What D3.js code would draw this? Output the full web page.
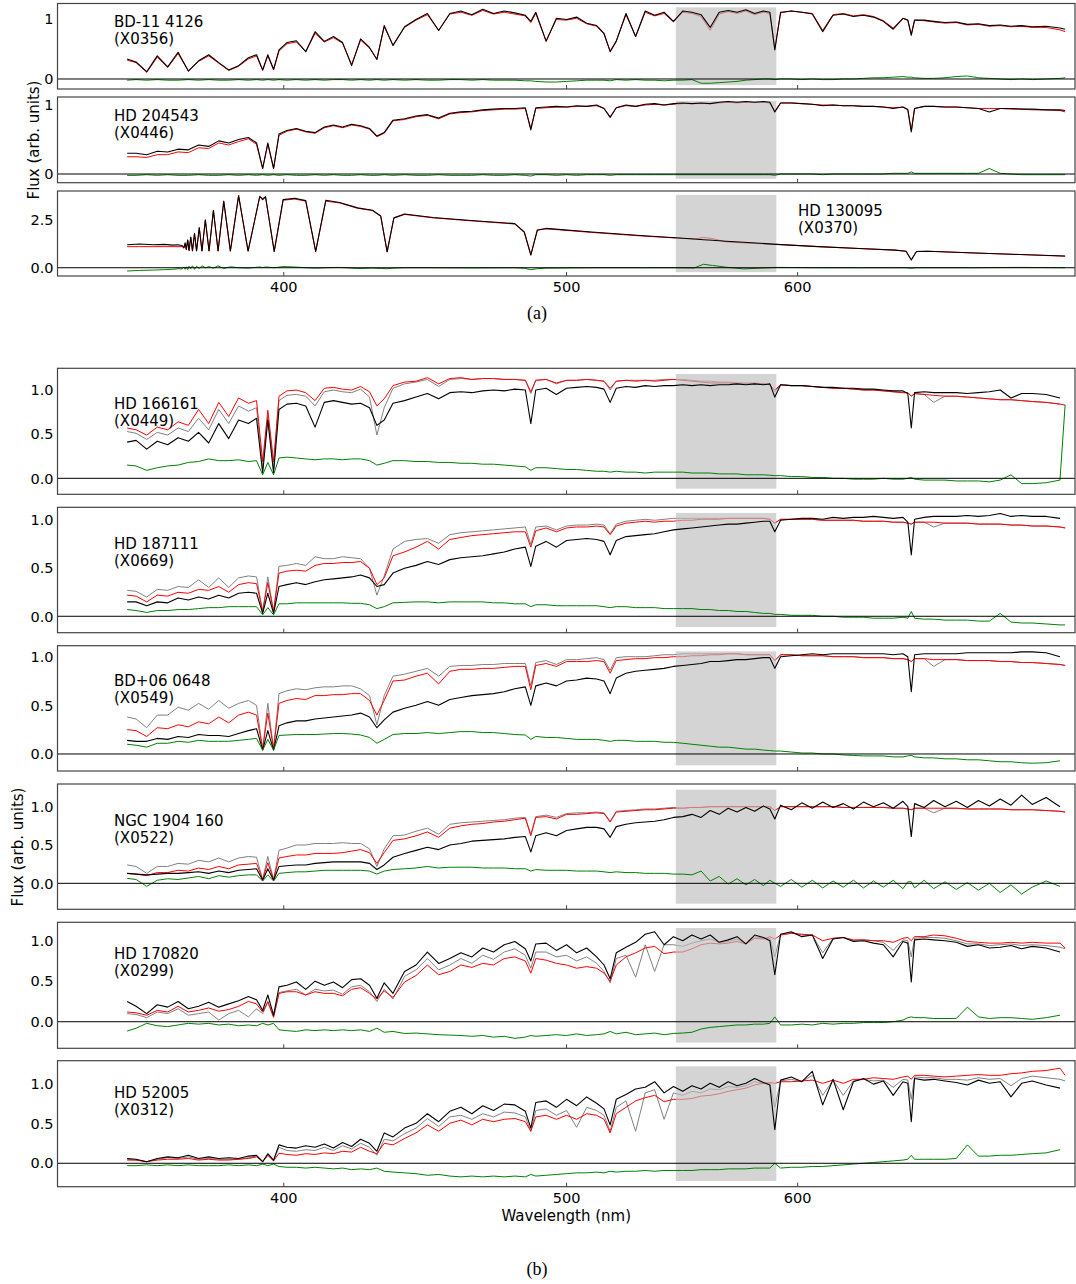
<!DOCTYPE html>
<html>
<head>
<meta charset="utf-8">
<script src="https://cdn.jsdelivr.net/npm/d3@7"></script>
<style>
  body { margin: 0; background: #fff; }
  svg text { font-family: "DejaVu Sans", sans-serif; fill: #000; }
</style>
</head>
<body>
<svg id="fig" width="1076" height="1284"></svg>
<script>
// wavelength grid shared by the cool stars (nm)
const wlGrid = [
  353.5, 356, 359, 362, 365, 368, 371, 374, 377, 380,
  383, 386, 389, 391.5, 393.4, 395, 396.8, 398.5, 401, 404,
  407, 410, 413, 416, 419, 422, 425, 428, 430.5, 433,
  436, 440, 444, 448, 452, 456, 460, 464, 468, 472,
  476, 480, 484, 486.1, 488, 492, 496, 500, 504, 508,
  512, 515, 517.5, 520, 524, 528, 532, 536, 540, 544,
  548, 552, 556, 560, 564, 568, 572, 576, 580, 584,
  587, 589.3, 592, 597, 602, 607, 612, 617, 622, 627,
  632, 637, 642, 647, 652, 654.5, 656.3, 658, 663, 668,
  674, 680, 686, 692, 698, 704, 710, 716, 722, 730,
  738, 741
];

// finer grid around the Balmer series for the hot star
const wlHot = [
  353.5, 357, 361, 364, 366.5, 368, 369.2, 369.7, 370.05, 370.4,
  370.8, 371.2, 371.7, 372.2, 372.8, 373.4, 374.2, 375.0, 376.0, 377.1,
  378.4, 379.8, 381.5, 383.5, 386.0, 388.9, 392.5, 393.4, 394.3, 397.0,
  399.8, 403.5, 407, 410.2, 413.5, 418, 424, 429, 431.8, 434.0,
  436.3, 440, 450, 465, 480, 483.6, 486.1, 488.6, 492, 510,
  530, 545, 553, 557, 561, 567, 575, 590, 610, 630,
  648, 653.6, 656.3, 659, 665, 690, 715, 741
];

// ---- (a) BD-11 4126 (X0356)
const bd11_obs = [
  0.33, 0.28, 0.12, 0.38, 0.20, 0.44, 0.13, 0.30, 0.40, 0.27,
  0.15, 0.22, 0.35, 0.40, 0.15, 0.40, 0.16, 0.48, 0.60, 0.63,
  0.45, 0.78, 0.62, 0.70, 0.60, 0.22, 0.66, 0.52, 0.32, 0.88,
  0.55, 0.86, 0.98, 1.08, 0.80, 1.08, 1.12, 1.06, 1.15, 1.08,
  1.12, 1.09, 1.05, 0.95, 1.10, 0.62, 1.00, 0.98, 1.02, 0.92,
  0.88, 0.75, 0.45, 0.62, 1.08, 0.70, 1.12, 1.05, 1.10, 0.95,
  1.12, 1.10, 1.06, 0.85, 1.10, 1.13, 1.10, 1.14, 1.08, 1.12,
  1.10, 0.48, 1.10, 1.12, 1.10, 1.07, 0.78, 1.05, 1.07, 1.03,
  1.05, 1.02, 0.95, 0.82, 1.00, 0.97, 0.72, 0.97, 0.97, 0.95,
  0.93, 0.94, 0.90, 0.91, 0.88, 0.89, 0.87, 0.88, 0.86, 0.87,
  0.84, 0.82
];
const bd11_mod = [
  0.31, 0.27, 0.11, 0.36, 0.19, 0.42, 0.13, 0.29, 0.38, 0.26,
  0.14, 0.21, 0.33, 0.38, 0.14, 0.38, 0.15, 0.46, 0.58, 0.61,
  0.45, 0.75, 0.61, 0.68, 0.59, 0.24, 0.64, 0.51, 0.33, 0.86,
  0.56, 0.85, 0.97, 1.06, 0.80, 1.07, 1.10, 1.05, 1.13, 1.07,
  1.10, 1.07, 1.04, 0.93, 1.08, 0.63, 0.98, 0.97, 1.00, 0.91,
  0.87, 0.74, 0.46, 0.63, 1.06, 0.70, 1.10, 1.04, 1.08, 0.94,
  1.10, 1.08, 1.03, 0.80, 1.07, 1.11, 1.08, 1.12, 1.06, 1.10,
  1.08, 0.50, 1.09, 1.12, 1.10, 1.08, 0.80, 1.06, 1.08, 1.04,
  1.06, 1.03, 0.96, 0.84, 1.00, 0.97, 0.74, 0.97, 0.96, 0.94,
  0.92, 0.93, 0.89, 0.90, 0.87, 0.88, 0.86, 0.87, 0.85, 0.85,
  0.81, 0.78
];
const bd11_res = [
  -0.02, -0.01, -0.02, -0.01, -0.02, -0.02, -0.01, -0.02, -0.01, -0.02,
  -0.02, -0.01, -0.02, -0.01, -0.02, -0.01, -0.02, -0.01, -0.02, -0.01,
  -0.02, -0.01, -0.02, -0.01, -0.01, -0.02, -0.01, -0.02, -0.01, -0.02,
  -0.01, -0.02, -0.01, -0.02, -0.02, -0.01, -0.01, -0.02, -0.01, -0.02,
  -0.02, -0.02, -0.03, -0.03, -0.04, -0.05, -0.05, -0.04, -0.03, -0.02,
  -0.02, -0.02, -0.03, -0.01, -0.02, -0.01, -0.02, -0.02, -0.03, -0.02,
  -0.02, -0.01, -0.07, -0.07, -0.06, -0.05, -0.04, -0.02, -0.01, 0.00,
  0.00, -0.01, 0.00, 0.00, -0.01, 0.00, -0.01, -0.01, 0.00, 0.00,
  0.01, 0.02, 0.02, 0.03, 0.04, 0.03, 0.03, 0.02, 0.01, 0.01,
  0.02, 0.04, 0.05, 0.02, 0.01, 0.00, -0.01, 0.00, -0.01, 0.00,
  0.01, 0.02
];

// ---- (a) HD 204543 (X0446)
const hd204543_obs = [
  0.30, 0.30, 0.28, 0.33, 0.32, 0.36, 0.35, 0.42, 0.40, 0.48,
  0.45, 0.50, 0.53, 0.45, 0.08, 0.45, 0.08, 0.58, 0.63, 0.66,
  0.62, 0.60, 0.68, 0.71, 0.68, 0.72, 0.70, 0.66, 0.55, 0.60,
  0.78, 0.80, 0.84, 0.86, 0.81, 0.88, 0.90, 0.91, 0.93, 0.94,
  0.95, 0.95, 0.96, 0.64, 0.96, 0.97, 0.98, 0.97, 0.99, 0.98,
  1.00, 0.95, 0.82, 0.96, 1.00, 0.98, 1.01, 1.02, 1.00, 1.02,
  1.03, 1.02, 1.03, 1.02, 1.04, 1.05, 1.04, 1.05, 1.04, 1.05,
  1.04, 0.90, 1.03, 1.03, 1.02, 1.01, 0.99, 1.00, 0.99, 0.99,
  0.98, 0.98, 0.97, 0.95, 0.97, 0.93, 0.61, 0.95, 0.98, 0.98,
  0.97, 0.97, 0.96, 0.95, 0.90, 0.95, 0.95, 0.94, 0.94, 0.93,
  0.93, 0.92
];
const hd204543_mod = [
  0.25, 0.25, 0.24, 0.28, 0.28, 0.32, 0.31, 0.38, 0.37, 0.45,
  0.42, 0.47, 0.51, 0.43, 0.08, 0.43, 0.08, 0.56, 0.62, 0.65,
  0.61, 0.59, 0.67, 0.70, 0.67, 0.71, 0.69, 0.65, 0.54, 0.59,
  0.77, 0.79, 0.83, 0.85, 0.80, 0.87, 0.89, 0.90, 0.92, 0.93,
  0.94, 0.94, 0.95, 0.66, 0.95, 0.96, 0.97, 0.97, 0.98, 0.98,
  0.99, 0.95, 0.83, 0.96, 0.99, 0.98, 1.00, 1.01, 1.00, 1.01,
  1.02, 1.02, 1.02, 1.02, 1.03, 1.04, 1.03, 1.04, 1.04, 1.04,
  1.03, 0.91, 1.03, 1.03, 1.02, 1.01, 1.00, 1.00, 0.99, 0.99,
  0.98, 0.98, 0.97, 0.96, 0.97, 0.94, 0.63, 0.95, 0.98, 0.98,
  0.97, 0.97, 0.96, 0.95, 0.95, 0.95, 0.94, 0.94, 0.93, 0.93,
  0.92, 0.90
];
const hd204543_res = [
  -0.02, -0.02, -0.01, -0.02, -0.01, -0.02, -0.02, -0.01, -0.02, -0.02,
  -0.01, -0.02, -0.01, -0.02, -0.01, -0.02, -0.01, -0.02, -0.01, -0.02,
  -0.02, -0.01, -0.02, -0.01, -0.02, -0.02, -0.01, -0.02, -0.02, -0.01,
  -0.02, -0.01, -0.02, -0.02, -0.01, -0.02, -0.02, -0.02, -0.01, -0.02,
  -0.02, -0.01, -0.02, -0.03, -0.01, -0.01, -0.02, -0.01, -0.02, -0.01,
  -0.01, -0.01, -0.02, -0.01, -0.01, -0.01, -0.01, -0.01, -0.01, -0.01,
  -0.01, -0.01, -0.01, -0.01, -0.01, -0.01, -0.01, -0.01, -0.01, -0.01,
  -0.01, -0.02, 0.00, 0.00, 0.00, 0.00, -0.01, 0.00, 0.00, 0.00,
  0.00, 0.00, 0.00, 0.01, 0.01, 0.01, 0.03, 0.01, 0.01, 0.01,
  0.01, 0.01, 0.01, 0.01, 0.08, 0.01, 0.00, -0.01, -0.01, -0.01,
  -0.01, -0.01
];

// ---- (a) HD 130095 (X0370), on wlHot
const hd130095_obs = [
  1.20, 1.24, 1.20, 1.22, 1.18, 1.20, 1.15, 1.05, 1.30, 0.95,
  1.45, 0.90, 1.60, 0.88, 1.80, 0.87, 2.10, 0.87, 2.50, 0.87,
  3.00, 0.87, 3.47, 0.87, 3.75, 0.87, 3.72, 3.55, 3.70, 0.85,
  3.55, 3.62, 3.50, 0.85, 3.52, 3.40, 3.12, 3.00, 2.70, 0.83,
  2.60, 2.80, 2.62, 2.45, 2.30, 1.85, 0.66, 1.95, 2.05, 1.86,
  1.68, 1.56, 1.50, 1.46, 1.43, 1.38, 1.33, 1.22, 1.10, 1.00,
  0.92, 0.86, 0.40, 0.85, 0.86, 0.77, 0.69, 0.61
];
const hd130095_mod = [
  1.10, 1.10, 1.10, 1.10, 1.10, 1.10, 1.10, 1.02, 1.25, 0.95,
  1.43, 0.90, 1.58, 0.88, 1.78, 0.87, 2.08, 0.87, 2.48, 0.87,
  2.98, 0.87, 3.45, 0.87, 3.78, 0.87, 3.70, 3.62, 3.68, 0.85,
  3.52, 3.58, 3.47, 0.85, 3.47, 3.38, 3.10, 2.98, 2.68, 0.83,
  2.58, 2.78, 2.60, 2.43, 2.28, 1.88, 0.68, 1.98, 2.03, 1.84,
  1.66, 1.55, 1.49, 1.58, 1.52, 1.35, 1.29, 1.22, 1.10, 1.00,
  0.92, 0.86, 0.42, 0.85, 0.86, 0.77, 0.69, 0.60
];
const hd130095_res = [
  -0.17, -0.14, -0.12, -0.10, -0.08, -0.05, -0.06, 0.03, -0.08, 0.05,
  -0.10, 0.08, -0.05, 0.10, -0.08, 0.08, -0.04, 0.10, 0.00, 0.06,
  -0.02, 0.10, -0.04, 0.05, 0.00, -0.02, 0.04, 0.01, 0.04, 0.00,
  0.06, 0.04, 0.00, -0.02, 0.00, 0.02, -0.04, -0.02, -0.04, -0.05,
  -0.02, 0.00, 0.00, -0.01, 0.00, -0.03, -0.10, -0.05, -0.02, 0.00,
  0.00, 0.00, -0.01, 0.18, 0.12, 0.03, -0.06, 0.02, 0.00, 0.00,
  0.00, 0.00, -0.03, 0.00, 0.00, 0.00, 0.02, 0.00
];

// ---- (b) HD 166161 (X0449)
const hd166161_obs = [
  0.41, 0.43, 0.33, 0.42, 0.38, 0.46, 0.42, 0.52, 0.40, 0.62,
  0.45, 0.66, 0.62, 0.68, 0.06, 0.66, 0.06, 0.78, 0.84, 0.85,
  0.82, 0.58, 0.86, 0.88, 0.86, 0.84, 0.85, 0.80, 0.60, 0.66,
  0.85, 0.88, 0.92, 0.96, 0.90, 0.97, 0.98, 0.97, 0.99, 1.00,
  0.99, 1.01, 1.00, 0.62, 1.00, 1.02, 0.95, 1.02, 1.03, 1.04,
  1.03, 1.01, 0.86, 1.02, 1.04, 1.03, 1.05, 1.04, 1.05, 1.05,
  1.06, 1.05, 1.06, 1.05, 1.06, 1.06, 1.07, 1.06, 1.07, 1.06,
  1.07, 0.92, 1.06, 1.05, 1.05, 1.04, 1.03, 1.03, 1.02, 1.02,
  1.01, 1.01, 1.00, 0.99, 0.99, 0.96, 0.57, 0.97, 0.98, 0.97,
  0.97, 0.97, 0.96, 0.97, 0.98, 1.00, 0.91, 0.96, 0.96, 0.95,
  0.91, null
];
const hd166161_mod = [
  0.57, 0.55, 0.49, 0.58, 0.55, 0.64, 0.60, 0.78, 0.62, 0.86,
  0.70, 0.91, 0.85, 0.88, 0.19, 0.77, 0.19, 0.93, 0.99, 1.00,
  0.97, 0.88, 1.02, 1.03, 1.01, 1.00, 1.04, 0.98, 0.82, 0.90,
  1.05, 1.09, 1.10, 1.14, 1.07, 1.13, 1.14, 1.12, 1.13, 1.13,
  1.12, 1.12, 1.11, 0.98, 1.11, 1.12, 1.08, 1.11, 1.11, 1.12,
  1.11, 1.10, 1.02, 1.10, 1.11, 1.10, 1.11, 1.10, 1.11, 1.12,
  1.11, 1.10, 1.09, 1.08, 1.08, 1.08, 1.07, 1.07, 1.07, 1.07,
  1.06, 1.00, 1.06, 1.05, 1.05, 1.04, 1.03, 1.02, 1.02, 1.01,
  1.00, 1.00, 0.99, 0.98, 0.97, 0.97, 0.93, 0.96, 0.95, 0.94,
  0.93, 0.93, 0.92, 0.91, 0.90, 0.89, 0.89, 0.88, 0.87, 0.86,
  0.84, 0.83
];
const hd166161_alt = [
  0.53, 0.51, 0.44, 0.52, 0.49, 0.57, 0.53, 0.68, 0.55, 0.78,
  0.62, 0.82, 0.76, 0.80, 0.12, 0.70, 0.12, 0.88, 0.94, 0.95,
  0.93, 0.82, 0.98, 1.00, 0.98, 0.97, 1.01, 0.92, 0.49, 0.80,
  1.02, 1.07, 1.09, 1.12, 1.04, 1.12, 1.13, 1.12, 1.13, 1.13,
  1.12, 1.12, 1.11, 0.96, 1.11, 1.12, 1.07, 1.11, 1.11, 1.12,
  1.11, 1.10, 1.00, 1.10, 1.11, 1.11, 1.11, 1.11, 1.12, 1.12,
  1.12, 1.11, 1.10, 1.10, 1.09, 1.09, 1.08, 1.08, 1.08, 1.07,
  1.06, 0.98, 1.06, 1.05, 1.05, 1.04, 1.03, 1.02, 1.02, 1.01,
  1.00, 1.00, 0.99, 0.98, 0.97, 0.97, 0.93, 0.96, 0.95, 0.86,
  0.93, 0.93, 0.92, 0.91, 0.90, 0.89, 0.89, 0.88, 0.87, 0.86,
  0.84, null
];
const hd166161_res = [
  0.15, 0.14, 0.09, 0.12, 0.14, 0.15, 0.18, 0.19, 0.22, 0.20,
  0.20, 0.21, 0.19, 0.20, 0.04, 0.18, 0.04, 0.23, 0.24, 0.23,
  0.22, 0.21, 0.22, 0.22, 0.21, 0.22, 0.22, 0.20, 0.15, 0.17,
  0.20, 0.20, 0.19, 0.19, 0.18, 0.18, 0.17, 0.17, 0.16, 0.16,
  0.15, 0.14, 0.13, 0.09, 0.12, 0.12, 0.11, 0.10, 0.10, 0.09,
  0.08, 0.08, 0.07, 0.08, 0.07, 0.07, 0.06, 0.07, 0.07, 0.07,
  0.07, 0.06, 0.06, 0.06, 0.05, 0.05, 0.05, 0.04, 0.04, 0.04,
  0.035, 0.03, 0.03, 0.02, 0.02, 0.01, 0.01, 0.00, 0.00, -0.01,
  -0.01, -0.01, 0.00, -0.01, -0.01, 0.00, 0.01, -0.01, -0.02, -0.02,
  -0.02, -0.03, -0.03, -0.03, -0.04, -0.02, 0.04, -0.06, -0.06, -0.05,
  -0.02, 0.83
];

// ---- (b) HD 187111 (X0669)
const hd187111_obs = [
  0.15, 0.15, 0.11, 0.15, 0.14, 0.19, 0.17, 0.20, 0.18, 0.22,
  0.19, 0.24, 0.25, 0.24, 0.03, 0.24, 0.03, 0.31, 0.33, 0.35,
  0.33, 0.36, 0.38, 0.39, 0.40, 0.41, 0.43, 0.40, 0.31, 0.33,
  0.45, 0.50, 0.53, 0.57, 0.54, 0.59, 0.61, 0.62, 0.63, 0.65,
  0.67, 0.70, 0.72, 0.52, 0.73, 0.78, 0.72, 0.79, 0.80, 0.81,
  0.80, 0.78, 0.64, 0.79, 0.83, 0.84, 0.85, 0.86, 0.88, 0.90,
  0.91, 0.92, 0.93, 0.94, 0.95, 0.96, 0.96, 0.97, 0.98, 0.99,
  0.99, 0.88, 1.00, 1.01, 1.02, 1.02, 1.01, 1.03, 1.02, 1.03,
  1.03, 1.04, 1.03, 1.02, 1.03, 0.98, 0.64, 1.01, 1.03, 1.04,
  1.04, 1.04, 1.05, 1.04, 1.05, 1.07, 1.04, 1.05, 1.04, 1.04,
  1.02, null
];
const hd187111_mod = [
  0.22, 0.21, 0.15, 0.22, 0.21, 0.25, 0.24, 0.28, 0.27, 0.31,
  0.25, 0.33, 0.35, 0.34, 0.05, 0.35, 0.05, 0.45, 0.47, 0.48,
  0.47, 0.53, 0.55, 0.55, 0.56, 0.56, 0.57, 0.50, 0.33, 0.40,
  0.63, 0.67, 0.72, 0.78, 0.70, 0.80, 0.82, 0.84, 0.85, 0.86,
  0.87, 0.88, 0.88, 0.72, 0.89, 0.92, 0.88, 0.92, 0.93, 0.93,
  0.94, 0.93, 0.85, 0.94, 0.97, 0.98, 0.99, 0.98, 0.99, 0.99,
  1.00, 1.00, 1.01, 1.01, 1.01, 1.02, 1.02, 1.02, 1.02, 1.02,
  1.01, 0.97, 1.01, 1.01, 1.01, 1.01, 1.00, 1.00, 1.00, 1.00,
  0.99, 0.99, 0.99, 0.98, 0.98, 0.97, 0.96, 0.98, 0.98, 0.98,
  0.97, 0.97, 0.97, 0.96, 0.96, 0.96, 0.95, 0.95, 0.94, 0.94,
  0.93, 0.92
];
const hd187111_alt = [
  0.27, 0.26, 0.20, 0.28, 0.27, 0.31, 0.30, 0.38, 0.30, 0.40,
  0.30, 0.40, 0.42, 0.41, 0.05, 0.41, 0.05, 0.52, 0.53, 0.55,
  0.53, 0.62, 0.60, 0.60, 0.62, 0.61, 0.60, 0.50, 0.22, 0.42,
  0.70, 0.78, 0.80, 0.81, 0.76, 0.85, 0.87, 0.88, 0.89, 0.90,
  0.91, 0.92, 0.93, 0.75, 0.93, 0.94, 0.90, 0.94, 0.95, 0.95,
  0.96, 0.95, 0.86, 0.96, 0.99, 1.00, 1.01, 1.00, 1.01, 1.02,
  1.02, 1.02, 1.02, 1.02, 1.02, 1.02, 1.02, 1.02, 1.02, 1.02,
  1.01, 0.97, 1.01, 1.01, 1.01, 1.01, 1.00, 1.00, 1.00, 1.00,
  0.99, 0.99, 0.99, 0.98, 0.98, 0.97, 0.96, 0.98, 0.98, 0.93,
  0.97, 0.97, 0.97, 0.96, 0.96, 0.96, 0.95, 0.95, 0.94, 0.94,
  0.93, 0.92
];
const hd187111_res = [
  0.07, 0.06, 0.04, 0.06, 0.06, 0.07, 0.07, 0.08, 0.09, 0.09,
  0.10, 0.10, 0.10, 0.10, 0.015, 0.09, 0.015, 0.13, 0.13, 0.14,
  0.14, 0.14, 0.14, 0.14, 0.14, 0.135, 0.135, 0.12, 0.08, 0.10,
  0.14, 0.145, 0.15, 0.15, 0.14, 0.15, 0.15, 0.15, 0.15, 0.14,
  0.14, 0.13, 0.13, 0.10, 0.12, 0.12, 0.11, 0.11, 0.11, 0.11,
  0.11, 0.10, 0.09, 0.10, 0.10, 0.09, 0.09, 0.09, 0.08, 0.08,
  0.08, 0.08, 0.07, 0.07, 0.06, 0.06, 0.05, 0.05, 0.04, 0.03,
  0.03, 0.02, 0.02, 0.01, 0.01, 0.01, 0.00, 0.00, -0.01, -0.01,
  -0.01, -0.02, -0.02, -0.02, -0.01, -0.02, 0.05, -0.02, -0.03, -0.03,
  -0.04, -0.04, -0.04, -0.05, -0.05, 0.03, -0.06, -0.07, -0.07, -0.08,
  -0.09, -0.09
];

// ---- (b) BD+06 0648 (X0549)
const bd06_obs = [
  0.14, 0.13, 0.13, 0.16, 0.15, 0.18, 0.17, 0.20, 0.19, 0.19,
  0.18, 0.21, 0.24, 0.26, 0.04, 0.24, 0.04, 0.29, 0.32, 0.34,
  0.34, 0.36, 0.37, 0.38, 0.39, 0.40, 0.42, 0.38, 0.27, 0.35,
  0.43, 0.47, 0.50, 0.54, 0.50, 0.56, 0.58, 0.60, 0.61, 0.62,
  0.64, 0.67, 0.69, 0.50, 0.70, 0.73, 0.70, 0.75, 0.76, 0.78,
  0.77, 0.75, 0.62, 0.78, 0.83, 0.85, 0.86, 0.87, 0.88, 0.90,
  0.91, 0.92, 0.93, 0.95, 0.95, 0.96, 0.97, 0.97, 0.98, 0.99,
  0.99, 0.88, 1.00, 1.01, 1.02, 1.03, 1.02, 1.03, 1.03, 1.03,
  1.03, 1.03, 1.03, 1.02, 1.03, 1.00, 0.64, 1.02, 1.03, 1.03,
  1.03, 1.03, 1.04, 1.04, 1.04, 1.04, 1.04, 1.05, 1.05, 1.04,
  1.00, null
];
const bd06_mod = [
  0.25, 0.24, 0.18, 0.27, 0.26, 0.30, 0.28, 0.33, 0.31, 0.38,
  0.32, 0.40, 0.43, 0.40, 0.05, 0.42, 0.05, 0.52, 0.55, 0.57,
  0.56, 0.60, 0.60, 0.61, 0.61, 0.62, 0.62, 0.55, 0.40, 0.55,
  0.75, 0.76, 0.80, 0.83, 0.72, 0.85, 0.87, 0.87, 0.88, 0.88,
  0.89, 0.90, 0.90, 0.66, 0.91, 0.93, 0.90, 0.95, 0.95, 0.95,
  0.96, 0.95, 0.83, 0.96, 0.97, 0.98, 0.98, 0.99, 0.99, 1.00,
  1.00, 1.01, 1.01, 1.02, 1.02, 1.03, 1.03, 1.02, 1.02, 1.02,
  1.02, 0.96, 1.02, 1.02, 1.01, 1.01, 1.01, 1.00, 1.00, 1.00,
  0.99, 0.99, 0.99, 0.98, 0.98, 0.97, 0.95, 0.98, 0.98, 0.97,
  0.97, 0.97, 0.96, 0.96, 0.96, 0.95, 0.95, 0.94, 0.94, 0.93,
  0.92, 0.91
];
const bd06_alt = [
  0.38, 0.36, 0.27, 0.40, 0.40, 0.48, 0.45, 0.52, 0.46, 0.55,
  0.47, 0.52, 0.55, 0.50, 0.05, 0.52, 0.05, 0.62, 0.65, 0.67,
  0.66, 0.68, 0.69, 0.69, 0.70, 0.70, 0.67, 0.60, 0.30, 0.60,
  0.80, 0.82, 0.85, 0.88, 0.80, 0.90, 0.91, 0.91, 0.92, 0.92,
  0.93, 0.93, 0.93, 0.70, 0.94, 0.96, 0.92, 0.97, 0.97, 0.98,
  0.99, 0.97, 0.86, 0.99, 1.00, 1.00, 1.00, 1.01, 1.02, 1.02,
  1.03, 1.03, 1.03, 1.03, 1.03, 1.03, 1.03, 1.02, 1.02, 1.02,
  1.02, 0.96, 1.02, 1.02, 1.01, 1.01, 1.01, 1.00, 1.00, 1.00,
  0.99, 0.99, 0.99, 0.98, 0.98, 0.97, 0.95, 0.98, 0.98, 0.90,
  0.97, 0.97, 0.96, 0.96, 0.96, 0.95, 0.95, 0.94, 0.94, 0.93,
  0.92, 0.91
];
const bd06_res = [
  0.10, 0.09, 0.07, 0.11, 0.11, 0.13, 0.12, 0.14, 0.13, 0.13,
  0.13, 0.14, 0.15, 0.16, 0.04, 0.15, 0.04, 0.19, 0.195, 0.20,
  0.20, 0.20, 0.205, 0.21, 0.21, 0.205, 0.195, 0.17, 0.11, 0.15,
  0.20, 0.21, 0.21, 0.22, 0.21, 0.22, 0.23, 0.23, 0.22, 0.22,
  0.21, 0.20, 0.195, 0.15, 0.18, 0.17, 0.17, 0.16, 0.15, 0.15,
  0.15, 0.14, 0.13, 0.14, 0.14, 0.13, 0.13, 0.13, 0.12, 0.12,
  0.11, 0.10, 0.09, 0.08, 0.07, 0.07, 0.06, 0.05, 0.05, 0.04,
  0.035, 0.03, 0.03, 0.02, 0.01, 0.01, 0.00, 0.00, -0.01, -0.015,
  -0.02, -0.02, -0.02, -0.03, -0.03, -0.02, -0.015, -0.03, -0.04, -0.04,
  -0.05, -0.05, -0.06, -0.06, -0.07, -0.08, -0.08, -0.09, -0.095, -0.09,
  -0.07, null
];

// ---- (b) NGC 1904 160 (X0522)
const ngc1904_obs = [
  0.13, 0.12, 0.11, 0.12, 0.13, 0.13, 0.14, 0.15, 0.13, 0.16,
  0.14, 0.17, 0.18, 0.19, 0.04, 0.19, 0.04, 0.22, 0.23, 0.24,
  0.24, 0.26, 0.27, 0.28, 0.28, 0.28, 0.28, 0.26, 0.18, 0.24,
  0.34, 0.39, 0.43, 0.47, 0.44, 0.50, 0.52, 0.55, 0.56, 0.57,
  0.58, 0.60, 0.61, 0.41, 0.62, 0.66, 0.62, 0.69, 0.71, 0.73,
  0.73, 0.71, 0.60, 0.74, 0.77, 0.79, 0.80, 0.81, 0.83, 0.86,
  0.87, 0.90, 0.86, 0.95, 0.90, 0.98, 0.93, 0.99, 0.94, 1.01,
  0.97, 0.84, 1.02, 0.96, 1.05, 0.98, 1.06, 0.99, 1.04, 0.97,
  1.06, 1.00, 1.05, 0.98, 1.07, 1.00, 0.61, 1.04, 0.99, 1.08,
  1.00, 1.07, 0.99, 1.08, 1.01, 1.10, 1.02, 1.15, 1.03, 1.12,
  1.00, null
];
const ngc1904_mod = [
  0.13, 0.12, 0.10, 0.14, 0.14, 0.17, 0.16, 0.20, 0.18, 0.22,
  0.19, 0.24, 0.25, 0.26, 0.05, 0.27, 0.05, 0.33, 0.35, 0.37,
  0.37, 0.39, 0.39, 0.39, 0.40, 0.42, 0.44, 0.40, 0.26, 0.40,
  0.56, 0.58, 0.62, 0.67, 0.60, 0.72, 0.75, 0.77, 0.78, 0.80,
  0.81, 0.83, 0.85, 0.62, 0.86, 0.87, 0.84, 0.90, 0.90, 0.91,
  0.92, 0.91, 0.80, 0.93, 0.94, 0.95, 0.96, 0.96, 0.97, 0.98,
  0.98, 0.99, 0.99, 1.00, 1.00, 1.00, 1.00, 1.00, 1.00, 1.00,
  1.00, 0.95, 1.00, 1.00, 1.00, 1.00, 1.00, 1.00, 0.99, 0.99,
  0.99, 0.99, 0.99, 0.98, 0.98, 0.97, 0.96, 0.98, 0.98, 0.98,
  0.98, 0.98, 0.97, 0.97, 0.97, 0.97, 0.96, 0.96, 0.96, 0.95,
  0.94, 0.93
];
const ngc1904_alt = [
  0.24, 0.22, 0.13, 0.22, 0.22, 0.26, 0.25, 0.30, 0.28, 0.33,
  0.28, 0.33, 0.35, 0.34, 0.05, 0.35, 0.05, 0.43, 0.46, 0.50,
  0.50, 0.52, 0.52, 0.52, 0.53, 0.52, 0.52, 0.45, 0.22, 0.45,
  0.62, 0.63, 0.68, 0.72, 0.64, 0.77, 0.79, 0.80, 0.81, 0.82,
  0.83, 0.85, 0.86, 0.64, 0.87, 0.89, 0.86, 0.91, 0.92, 0.92,
  0.93, 0.92, 0.81, 0.94, 0.95, 0.96, 0.97, 0.97, 0.98, 0.99,
  0.98, 0.99, 0.99, 1.00, 1.00, 1.00, 1.00, 1.00, 1.00, 1.00,
  1.00, 0.95, 1.00, 1.00, 1.00, 1.00, 1.00, 1.00, 0.99, 0.99,
  0.99, 0.99, 0.99, 0.98, 0.98, 0.97, 0.96, 0.98, 0.98, 0.92,
  0.98, 0.98, 0.97, 0.97, 0.97, 0.97, 0.96, 0.96, 0.96, 0.95,
  0.94, 0.93
];
const ngc1904_res = [
  0.065, 0.05, -0.04, 0.04, 0.06, 0.05, 0.07, 0.09, 0.06, 0.10,
  0.08, 0.10, 0.11, 0.11, 0.03, 0.11, 0.03, 0.13, 0.14, 0.15,
  0.15, 0.16, 0.17, 0.17, 0.17, 0.17, 0.17, 0.16, 0.12, 0.16,
  0.18, 0.19, 0.20, 0.22, 0.20, 0.21, 0.21, 0.21, 0.20, 0.20,
  0.20, 0.19, 0.19, 0.16, 0.18, 0.17, 0.17, 0.17, 0.16, 0.16,
  0.16, 0.15, 0.14, 0.15, 0.14, 0.14, 0.13, 0.13, 0.13, 0.12,
  0.12, 0.11, 0.16, 0.03, 0.09, -0.01, 0.06, -0.02, 0.05, -0.03,
  0.04, 0.00, -0.04, 0.05, -0.05, 0.04, -0.06, 0.03, -0.05, 0.04,
  -0.06, 0.03, -0.05, 0.04, -0.07, 0.02, 0.02, -0.06, 0.04, -0.07,
  0.02, -0.08, 0.01, -0.09, 0.00, -0.12, -0.02, -0.14, -0.05, 0.03,
  -0.04, null
];

// ---- (b) HD 170820 (X0299)
const hd170820_obs = [
  0.25, 0.19, 0.10, 0.21, 0.18, 0.25, 0.16, 0.19, 0.24, 0.18,
  0.22, 0.26, 0.31, 0.27, 0.14, 0.33, 0.08, 0.43, 0.45, 0.49,
  0.40, 0.50, 0.45, 0.49, 0.42, 0.52, 0.53, 0.45, 0.29, 0.48,
  0.35, 0.62, 0.70, 0.86, 0.72, 0.78, 0.85, 0.80, 0.91, 0.86,
  0.95, 0.99, 0.90, 0.75, 0.96, 0.97, 0.88, 0.95, 0.85, 0.91,
  0.80, 0.70, 0.53, 0.85, 0.92, 0.98, 1.08, 1.11, 0.95, 1.05,
  1.00, 1.07, 1.02, 1.07, 0.98, 1.01, 1.05, 0.96, 1.07, 1.04,
  1.00, 0.58, 1.08, 1.11, 1.05, 1.07, 0.78, 1.02, 1.04, 0.99,
  1.00, 0.97, 0.95, 0.80, 0.99, 0.97, 0.49, 1.01, 1.02, 1.01,
  1.00, 0.98, 0.93, 0.95, 0.91, 0.92, 0.94, 0.90, 0.93, 0.91,
  0.86, null
];
const hd170820_mod = [
  0.12, 0.11, 0.08, 0.14, 0.12, 0.19, 0.12, 0.14, 0.17, 0.13,
  0.15, 0.19, 0.25, 0.22, 0.12, 0.25, 0.06, 0.35, 0.37, 0.37,
  0.33, 0.37, 0.35, 0.35, 0.32, 0.40, 0.42, 0.35, 0.28, 0.38,
  0.30, 0.49, 0.57, 0.70, 0.58, 0.62, 0.70, 0.67, 0.72, 0.70,
  0.78, 0.80, 0.75, 0.60, 0.78, 0.76, 0.72, 0.70, 0.66, 0.68,
  0.66, 0.60, 0.50, 0.70, 0.80, 0.85, 0.91, 0.93, 0.84, 0.86,
  0.86, 0.90, 0.95, 0.97, 0.96, 0.97, 0.99, 0.96, 1.03, 1.02,
  1.05, 1.02, 1.07, 1.09, 1.08, 1.07, 1.00, 1.03, 1.04, 1.01,
  1.01, 1.00, 1.00, 0.98, 1.03, 1.04, 1.00, 1.05, 1.05, 1.07,
  1.06, 1.03, 0.99, 0.98, 0.97, 0.97, 0.98, 0.97, 0.98, 0.97,
  0.97, 0.91
];
const hd170820_alt = [
  0.10, 0.09, 0.05, 0.12, 0.10, 0.16, 0.08, 0.10, 0.12, 0.02,
  0.10, 0.14, 0.06, 0.16, 0.10, 0.24, 0.05, 0.36, 0.38, 0.40,
  0.33, 0.40, 0.38, 0.39, 0.34, 0.43, 0.45, 0.37, 0.25, 0.40,
  0.28, 0.56, 0.64, 0.78, 0.64, 0.70, 0.78, 0.72, 0.82, 0.77,
  0.86, 0.90, 0.82, 0.66, 0.86, 0.86, 0.80, 0.82, 0.75, 0.80,
  0.72, 0.62, 0.48, 0.78, 0.82, 0.55, 0.95, 0.62, 0.95, 0.95,
  0.93, 0.97, 1.00, 1.02, 0.98, 0.99, 1.02, 0.96, 1.05, 1.03,
  1.03, 0.80, 1.08, 1.10, 1.07, 1.07, 0.85, 1.03, 1.04, 1.00,
  1.01, 1.00, 0.98, 0.88, 1.01, 1.00, 0.80, 1.03, 1.04, 1.04,
  1.03, 1.00, 0.96, 0.96, 0.94, 0.95, 0.96, 0.94, 0.95, 0.94,
  0.92, 0.90
];
const hd170820_res = [
  -0.115, -0.08, -0.02, -0.05, -0.06, -0.04, -0.02, -0.03, -0.02, -0.04,
  -0.03, -0.05, -0.04, -0.05, -0.02, -0.04, -0.02, -0.10, -0.11, -0.12,
  -0.10, -0.11, -0.10, -0.11, -0.10, -0.11, -0.10, -0.12, -0.08, -0.13,
  -0.12, -0.145, -0.14, -0.15, -0.16, -0.165, -0.17, -0.18, -0.17, -0.19,
  -0.18, -0.205, -0.19, -0.17, -0.18, -0.17, -0.16, -0.17, -0.15, -0.17,
  -0.16, -0.15, -0.12, -0.15, -0.13, -0.16, -0.15, -0.14, -0.16, -0.145,
  -0.14, -0.13, -0.09, -0.07, -0.06, -0.05, -0.04, -0.04, -0.03, -0.03,
  -0.02, 0.06, -0.04, -0.04, -0.03, -0.04, -0.02, -0.03, -0.02, -0.02,
  -0.01, -0.01, -0.01, 0.00, 0.02, 0.05, 0.06, 0.05, 0.05, 0.04,
  0.04, 0.04, 0.18, 0.06, 0.04, 0.05, 0.05, 0.04, 0.03, 0.05,
  0.08, null
];

// ---- (b) HD 52005 (X0312)
const hd52005_obs = [
  0.06, 0.05, 0.02, 0.06, 0.08, 0.07, 0.10, 0.06, 0.08, 0.06,
  0.07, 0.06, 0.09, 0.10, 0.02, 0.12, 0.04, 0.23, 0.20, 0.19,
  0.22, 0.20, 0.24, 0.19, 0.26, 0.21, 0.30, 0.25, 0.15, 0.38,
  0.33, 0.44, 0.50, 0.62, 0.52, 0.65, 0.70, 0.62, 0.72, 0.66,
  0.74, 0.73, 0.65, 0.44, 0.76, 0.78, 0.70, 0.80, 0.72, 0.83,
  0.75, 0.68, 0.48, 0.80, 0.86, 0.93, 0.95, 1.02, 0.88, 0.96,
  0.90, 0.97, 0.93, 1.00, 0.95, 1.02, 0.97, 1.00, 1.06, 1.01,
  0.98, 0.42, 1.04, 1.08, 1.02, 1.15, 0.73, 1.05, 0.67, 1.02,
  1.06, 0.99, 1.03, 0.85, 1.02, 1.00, 0.52, 1.06, 1.04, 1.05,
  1.03, 1.01, 0.98, 1.04, 1.00, 1.02, 0.83, 1.00, 1.03, 0.98,
  0.94, null
];
const hd52005_mod = [
  0.04, 0.04, 0.02, 0.04, 0.05, 0.05, 0.06, 0.04, 0.05, 0.04,
  0.04, 0.05, 0.06, 0.08, 0.02, 0.10, 0.03, 0.125, 0.11, 0.10,
  0.12, 0.11, 0.13, 0.12, 0.15, 0.14, 0.20, 0.15, 0.12, 0.25,
  0.23, 0.31, 0.38, 0.48, 0.40, 0.50, 0.54, 0.48, 0.55, 0.52,
  0.55, 0.56, 0.52, 0.40, 0.58, 0.60, 0.55, 0.60, 0.55, 0.62,
  0.60, 0.55, 0.38, 0.62, 0.70, 0.78, 0.82, 0.85, 0.77, 0.80,
  0.80, 0.81, 0.84, 0.85, 0.87, 0.90, 0.92, 0.94, 0.98, 1.00,
  1.01, 1.00, 1.02, 1.02, 1.03, 1.04, 1.00, 1.04, 1.00, 1.05,
  1.05, 1.07, 1.06, 1.05, 1.08, 1.09, 1.05, 1.10, 1.10, 1.09,
  1.08, 1.09, 1.10, 1.11, 1.10, 1.10, 1.12, 1.13, 1.15, 1.16,
  1.19, 1.10
];
const hd52005_alt = [
  0.05, 0.04, 0.02, 0.05, 0.07, 0.06, 0.08, 0.05, 0.06, 0.05,
  0.05, 0.05, 0.07, 0.09, 0.02, 0.10, 0.03, 0.20, 0.16, 0.15,
  0.17, 0.16, 0.20, 0.16, 0.22, 0.18, 0.25, 0.20, 0.10, 0.30,
  0.28, 0.37, 0.44, 0.56, 0.46, 0.58, 0.60, 0.55, 0.62, 0.58,
  0.64, 0.63, 0.58, 0.40, 0.66, 0.68, 0.60, 0.66, 0.45, 0.70,
  0.66, 0.60, 0.40, 0.70, 0.78, 0.40, 0.88, 0.92, 0.55, 0.88,
  0.85, 0.90, 0.88, 0.93, 0.92, 0.96, 0.95, 0.97, 1.02, 1.00,
  1.00, 0.70, 1.03, 1.05, 1.02, 1.10, 0.85, 1.04, 0.85, 1.03,
  1.05, 1.03, 1.04, 0.95, 1.05, 1.04, 0.80, 1.08, 1.07, 1.07,
  1.05, 1.05, 1.04, 1.07, 1.05, 1.06, 0.97, 1.06, 1.09, 1.07,
  1.05, 1.03
];
const hd52005_res = [
  -0.03, -0.03, -0.02, -0.03, -0.02, -0.03, -0.02, -0.03, -0.03, -0.03,
  -0.02, -0.03, -0.02, -0.03, -0.01, -0.03, -0.01, -0.04, -0.05, -0.05,
  -0.06, -0.05, -0.06, -0.07, -0.06, -0.08, -0.07, -0.08, -0.06, -0.10,
  -0.11, -0.12, -0.13, -0.15, -0.14, -0.16, -0.17, -0.16, -0.17, -0.16,
  -0.17, -0.16, -0.17, -0.14, -0.16, -0.15, -0.14, -0.13, -0.12, -0.12,
  -0.11, -0.12, -0.10, -0.11, -0.10, -0.10, -0.09, -0.10, -0.09, -0.09,
  -0.09, -0.09, -0.08, -0.08, -0.08, -0.07, -0.07, -0.07, -0.06, -0.06,
  -0.06, 0.00, -0.06, -0.05, -0.05, -0.04, -0.04, -0.03, -0.02, -0.01,
  0.00, 0.01, 0.02, 0.03, 0.04, 0.05, 0.10, 0.05, 0.05, 0.05,
  0.05, 0.06, 0.23, 0.09, 0.09, 0.10, 0.10, 0.11, 0.12, 0.13,
  0.17, null
];

const xTickValues = [400, 500, 600];
const overlapBand = [545, 590];   // UVB/VIS overlap, nm

// panel layout
const panels = [
  { name: 'BD-11 4126', id: '(X0356)', wl: wlGrid, obs: bd11_obs, mod: bd11_mod, res: bd11_res,
    top: 3.5, bottom: 89, ylim: [-0.165, 1.244], ticks: [0, 1], fmt: d3.format('d'), lab: [114, 27] },
  { name: 'HD 204543', id: '(X0446)', wl: wlGrid, obs: hd204543_obs, mod: hd204543_mod, res: hd204543_res,
    top: 97, bottom: 182.7, ylim: [-0.126, 1.116], ticks: [0, 1], fmt: d3.format('d'), lab: [114, 120.7] },
  { name: 'HD 130095', id: '(X0370)', wl: wlHot, obs: hd130095_obs, mod: hd130095_mod, res: hd130095_res,
    top: 191, bottom: 276, ylim: [-0.43, 4.0], ticks: [0, 2.5], fmt: d3.format('.1f'), lab: [798, 216], xlabels: true },
  { name: 'HD 166161', id: '(X0449)', wl: wlGrid, obs: hd166161_obs, mod: hd166161_mod, alt: hd166161_alt, res: hd166161_res,
    top: 368.3, bottom: 494.3, ylim: [-0.181, 1.246], ticks: [0, 0.5, 1], fmt: d3.format('.1f'), lab: [114, 409] },
  { name: 'HD 187111', id: '(X0669)', wl: wlGrid, obs: hd187111_obs, mod: hd187111_mod, alt: hd187111_alt, res: hd187111_res,
    top: 507.3, bottom: 632.7, ylim: [-0.171, 1.135], ticks: [0, 0.5, 1], fmt: d3.format('.1f'), lab: [114, 549.3] },
  { name: 'BD+06 0648', id: '(X0549)', wl: wlGrid, obs: bd06_obs, mod: bd06_mod, alt: bd06_alt, res: bd06_res,
    top: 645.7, bottom: 771, ylim: [-0.175, 1.113], ticks: [0, 0.5, 1], fmt: d3.format('.1f'), lab: [114, 686] },
  { name: 'NGC 1904 160', id: '(X0522)', wl: wlGrid, obs: ngc1904_obs, mod: ngc1904_mod, alt: ngc1904_alt, res: ngc1904_res,
    top: 784, bottom: 909.3, ylim: [-0.339, 1.296], ticks: [0, 0.5, 1], fmt: d3.format('.1f'), lab: [114, 825.7] },
  { name: 'HD 170820', id: '(X0299)', wl: wlGrid, obs: hd170820_obs, mod: hd170820_mod, alt: hd170820_alt, res: hd170820_res,
    top: 922.3, bottom: 1048.3, ylim: [-0.328, 1.227], ticks: [0, 0.5, 1], fmt: d3.format('.1f'), lab: [114, 959.3] },
  { name: 'HD 52005', id: '(X0312)', wl: wlGrid, obs: hd52005_obs, mod: hd52005_mod, alt: hd52005_alt, res: hd52005_res,
    top: 1060.7, bottom: 1186.7, ylim: [-0.293, 1.283], ticks: [0, 0.5, 1], fmt: d3.format('.1f'), lab: [114, 1097.7], xlabels: true }
];

const svg = d3.select('#fig');
const left = 57.5, right = 1075;
const x = d3.scaleLog().domain([334.6, 746.8]).range([left, right]);

panels.forEach((p, k) => {
  const y = d3.scaleLinear().domain(p.ylim).range([p.bottom, p.top]);
  const h = p.bottom - p.top;
  const g = svg.append('g');

  g.append('clipPath').attr('id', 'clip' + k)
    .append('rect').attr('x', left).attr('y', p.top).attr('width', right - left).attr('height', h);
  const body = g.append('g').attr('clip-path', `url(#clip${k})`);

  const spectrum = (vals, colour, width) => {
    const pts = p.wl.map((w, i) => [w, vals[i]]);
    body.append('path').datum(pts)
      .attr('fill', 'none')
      .attr('stroke', colour)
      .attr('stroke-width', width)
      .attr('stroke-linejoin', 'round')
      .attr('d', d3.line().defined(d => d[1] != null).x(d => x(d[0])).y(d => y(d[1])));
  };

  if (p.alt) spectrum(p.alt, '#808080', 1);
  spectrum(p.mod, '#ff0000', 1);

  // shaded overlap region
  body.append('rect')
    .attr('x', x(overlapBand[0])).attr('width', x(overlapBand[1]) - x(overlapBand[0]))
    .attr('y', p.top + 0.045 * h).attr('height', 0.91 * h)
    .attr('fill', '#bdbdbd').attr('opacity', 0.65);

  spectrum(p.obs, '#000', 1.1);
  spectrum(p.res, '#008000', 1);

  // zero line
  body.append('line')
    .attr('x1', left).attr('x2', right).attr('y1', y(0)).attr('y2', y(0))
    .attr('stroke', '#000').attr('stroke-width', 1);

  // frame
  g.append('rect').attr('x', left).attr('y', p.top).attr('width', right - left).attr('height', h)
    .attr('fill', 'none').attr('stroke', '#444').attr('stroke-width', 1.2);

  // x ticks (inward)
  g.selectAll('.xt').data(xTickValues).enter().append('line')
    .attr('x1', d => x(d)).attr('x2', d => x(d))
    .attr('y1', p.bottom).attr('y2', p.bottom - 4)
    .attr('stroke', '#444').attr('stroke-width', 1);
  if (p.xlabels) {
    g.selectAll('.xl').data(xTickValues).enter().append('text')
      .attr('x', d => x(d)).attr('y', p.bottom + 16.3)
      .attr('text-anchor', 'middle').attr('font-size', '14.5px')
      .text(d => d);
  }

  // y tick labels
  g.selectAll('.yl').data(p.ticks).enter().append('text')
    .attr('x', 53.5).attr('y', d => y(d)).attr('dy', '0.36em')
    .attr('text-anchor', 'end').attr('font-size', '14.5px')
    .text(d => p.fmt(d));

  // star label
  const t = g.append('text').attr('font-size', '15px');
  t.append('tspan').attr('x', p.lab[0]).attr('y', p.lab[1]).text(p.name);
  t.append('tspan').attr('x', p.lab[0]).attr('y', p.lab[1] + 17).text(p.id);
});

// axis titles
svg.append('text')
  .attr('transform', 'translate(34,140) rotate(-90)')
  .attr('text-anchor', 'middle').attr('dy', '0.35em').attr('font-size', '15px')
  .text('Flux (arb. units)');
svg.append('text')
  .attr('transform', 'translate(18,847) rotate(-90)')
  .attr('text-anchor', 'middle').attr('dy', '0.35em').attr('font-size', '15px')
  .text('Flux (arb. units)');
svg.append('text')
  .attr('x', (left + right) / 2).attr('y', 1221)
  .attr('text-anchor', 'middle').attr('font-size', '15px')
  .text('Wavelength (nm)');

// sub-figure captions
svg.append('text').attr('x', 537).attr('y', 319)
  .attr('text-anchor', 'middle').attr('font-size', '18px')
  .style('font-family', '"Liberation Serif", "Times New Roman", serif')
  .text('(a)');
svg.append('text').attr('x', 537).attr('y', 1275)
  .attr('text-anchor', 'middle').attr('font-size', '18px')
  .style('font-family', '"Liberation Serif", "Times New Roman", serif')
  .text('(b)');
</script>
</body>
</html>
